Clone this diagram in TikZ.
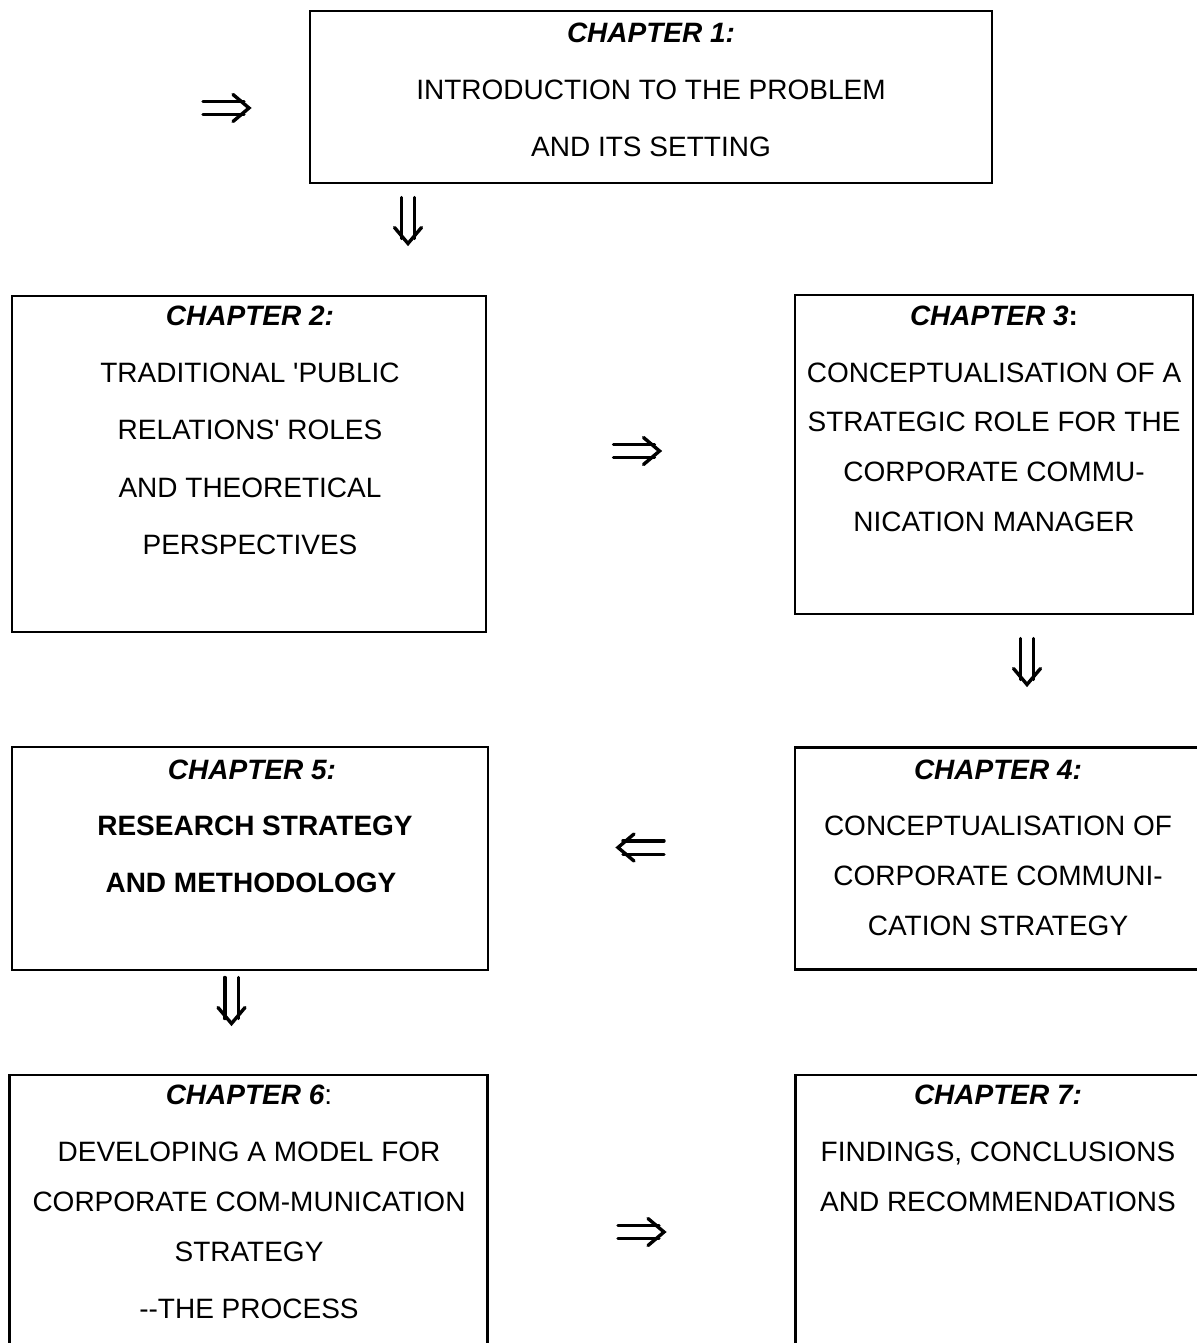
\documentclass[tikz,border=0pt]{standalone}
\usepackage{fontspec}
\setmainfont{Liberation Sans}[Ligatures=TeXReset]
\begin{document}
\begin{tikzpicture}[x=1pt,y=-1pt,
  chbox/.style={draw=black, line width=2.7pt, rectangle, inner sep=0pt},
  txt/.style={anchor=base, inner sep=0pt, font=\fontsize{28}{34}\selectfont},
  ttl/.style={txt, font=\fontsize{28}{34}\selectfont\bfseries\itshape},
  arrowline/.style={line width=3.4pt, line cap=round, line join=miter},
  dblarrow/.pic={
    \draw[arrowline] (-23,-6.7) -- (18,-6.7) (-23,6.7) -- (18,6.7);
    \draw[arrowline] (7,-13.5) -- (23,0) -- (7,13.5);
  }]
\useasboundingbox (0,0) rectangle (1196,1343);
% boxes
\node[chbox, minimum width=682pt, minimum height=172pt] (c1) at (651,97) {};
\node[chbox, minimum width=474pt, minimum height=336pt] (c2) at (249,464) {};
\node[chbox, minimum width=398pt, minimum height=319pt] (c3) at (994,454.5) {};
\node[chbox, minimum width=410pt, minimum height=222pt] (c4) at (1000,858.5) {};
\node[chbox, minimum width=476pt, minimum height=223pt] (c5) at (250,858.5) {};
\node[chbox, minimum width=478pt, minimum height=300pt] (c6) at (248.5,1225) {};
\node[chbox, minimum width=410pt, minimum height=300pt] (c7) at (1000.5,1225) {};
% chapter 1
\node[ttl] (t1a) at (651,43) {CHAPTER 1:};
\node[txt] (t1b) at (651,100) {INTRODUCTION TO THE PROBLEM};
\node[txt] (t1c) at (651,157) {AND ITS SETTING};
% chapter 2
\node[ttl] (t2a) at (250,325) {CHAPTER 2:};
\node[txt] (t2b) at (250,382) {TRADITIONAL 'PUBLIC};
\node[txt] (t2c) at (250,439) {RELATIONS' ROLES};
\node[txt] (t2d) at (250,497) {AND THEORETICAL};
\node[txt] (t2e) at (250,554) {PERSPECTIVES};
% chapter 3
\node[txt] (t3a) at (994,325) {{\bfseries\itshape CHAPTER 3}{\bfseries :}};
\node[txt] (t3b) at (994,382) {CONCEPTUALISATION OF A};
\node[txt] (t3c) at (994,431) {STRATEGIC ROLE FOR THE};
\node[txt] (t3d) at (994,481) {CORPORATE COMMU-};
\node[txt] (t3e) at (994,531) {NICATION MANAGER};
% chapter 4
\node[ttl] (t4a) at (998,779) {CHAPTER 4:};
\node[txt] (t4b) at (998,835) {CONCEPTUALISATION OF};
\node[txt] (t4c) at (998,885) {CORPORATE COMMUNI-};
\node[txt] (t4d) at (998,935) {CATION STRATEGY};
% chapter 5
\node[ttl] (t5a) at (252,779) {CHAPTER 5:};
\node[txt, font=\fontsize{28}{34}\selectfont\bfseries] (t5b) at (255,835) {RESEARCH STRATEGY};
\node[txt, font=\fontsize{28}{34}\selectfont\bfseries] (t5c) at (251,892) {AND METHODOLOGY};
% chapter 6
\node[txt] (t6a) at (249,1104) {{\bfseries\itshape CHAPTER 6}:};
\node[txt] (t6b) at (249,1161) {DEVELOPING A MODEL FOR};
\node[txt] (t6c) at (249,1211) {CORPORATE COM-MUNICATION};
\node[txt] (t6d) at (249,1261) {STRATEGY};
\node[txt] (t6e) at (249,1318) {--THE PROCESS};
% chapter 7
\node[ttl] (t7a) at (998,1104) {CHAPTER 7:};
\node[txt] (t7b) at (998,1161) {FINDINGS, CONCLUSIONS};
\node[txt] (t7c) at (998,1211) {AND RECOMMENDATIONS};
% arrows
\pic at (226,108) {dblarrow};
\pic[rotate=-90] at (408,220.5) {dblarrow};
\pic at (636.5,451) {dblarrow};
\pic[rotate=-90] at (1027,661.5) {dblarrow};
\pic[rotate=180] at (641,847.5) {dblarrow};
\pic[rotate=-90] at (231.5,1000.5) {dblarrow};
\pic at (641,1232) {dblarrow};
\end{tikzpicture}
\end{document}
